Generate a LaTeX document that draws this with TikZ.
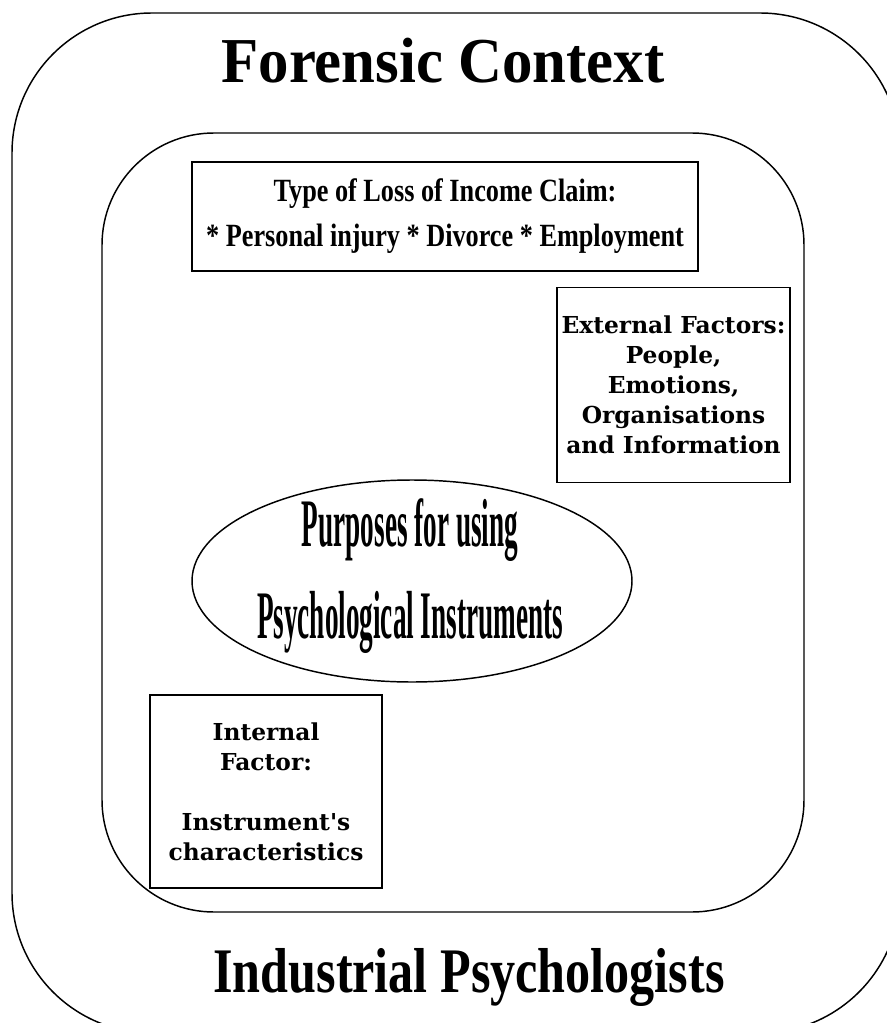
\documentclass[tikz,border=0pt]{standalone}
\usepackage{fontspec}
\setmainfont{Liberation Serif}
\newfontfamily\titlefont[FakeStretch=0.95]{Liberation Serif Bold}
\newfontfamily\condfont[FakeStretch=0.79]{Liberation Serif Bold}
\newfontfamily\claimfont[FakeStretch=0.81]{Liberation Serif Bold}
\newfontfamily\purposefont[FakeStretch=0.40]{Liberation Serif Bold}
\newfontfamily\factorfont{DejaVu Serif}
\usetikzlibrary{shapes.geometric}

\tikzset{
    factorbox/.style={draw, line width=1pt, align=center, inner sep=0pt,
        font=\factorfont\bfseries\fontsize{17.5}{22.5}\selectfont},
}

\begin{document}
\begin{tikzpicture}[x=0.75pt, y=-0.75pt, line width=1.1pt]

    \useasboundingbox (0,0) rectangle (887,1023);
    \clip (0,0) rectangle (887,1023);

    % Cadre extérieur et cadre intérieur
    \draw[rounded corners=105pt] (12,13) rectangle (900,1033);
    \draw[rounded corners=84pt] (102,133) rectangle (804,912);

    % Titres des deux cadres
    \node[anchor=base, font=\titlefont\fontsize{48}{58}\selectfont] (forensic) at (443,83) {Forensic Context};
    \node[anchor=base, font=\condfont\fontsize{47.6}{57}\selectfont] (industrial) at (469,992) {Industrial Psychologists};

    % Type de réclamation
    \node[draw, line width=1pt, minimum width=379.5pt, minimum height=81.75pt, align=center,
        font=\claimfont\fontsize{24.3}{33.75}\selectfont] (claim) at (445,216.5)
        {Type of Loss of Income Claim:\\* Personal injury * Divorce * Employment};

    % Facteurs externes et interne
    \node[factorbox, minimum width=174.75pt, minimum height=146.25pt] (external) at (673.5,385)
        {External Factors:\\People,\\Emotions,\\Organisations\\and Information};
    \node[factorbox, minimum width=174pt, minimum height=144.75pt] (internal) at (266,791.5)
        {Internal\\Factor:\\[22.5pt]Instrument's\\characteristics};

    % Ellipse centrale
    \node[draw, ellipse, minimum width=330pt, minimum height=151.5pt, inner sep=0pt] (purpose) at (412,581) {};
    \node[align=center, font=\purposefont\fontsize{51}{69}\selectfont] (purposetext) at (410,576)
        {Purposes for using\\Psychological Instruments};

\end{tikzpicture}
\end{document}
